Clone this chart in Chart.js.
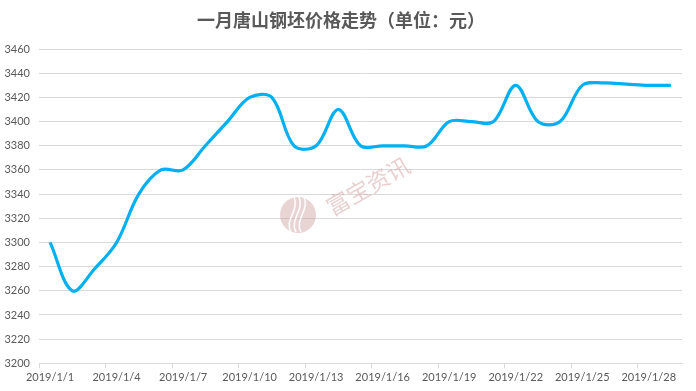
<!DOCTYPE html>
<html>
<head>
<meta charset="utf-8">
<script src="https://cdn.jsdelivr.net/npm/chart.js@4"></script>
<style>
  html, body { margin: 0; padding: 0; background: #fff; }
  #wrap { width: 696px; height: 391px; }
</style>
</head>
<body>
<div id="wrap"><canvas id="priceChart" width="696" height="391"></canvas></div>
<script>
const dates = [
  "2019/1/1", "2019/1/2", "2019/1/3", "2019/1/4", "2019/1/5", "2019/1/6", "2019/1/7",
  "2019/1/8", "2019/1/9", "2019/1/10", "2019/1/11", "2019/1/12", "2019/1/13", "2019/1/14",
  "2019/1/15", "2019/1/16", "2019/1/17", "2019/1/18", "2019/1/19", "2019/1/20", "2019/1/21",
  "2019/1/22", "2019/1/23", "2019/1/24", "2019/1/25", "2019/1/26", "2019/1/27", "2019/1/28",
  "2019/1/29"
];
const prices = [
  3300, 3260, 3278, 3300, 3340, 3360, 3360,
  3380, 3400, 3420, 3420, 3380, 3380, 3410,
  3380, 3380, 3380, 3380, 3400, 3400, 3400,
  3430, 3400, 3400, 3430, 3432, 3431, 3430,
  3430
];
const yMin = 3200, yMax = 3460, yStep = 20;
const titleText = "一月唐山钢坯价格走势（单位：元）";
const watermarkText = "富宝资讯";

const GRID = "#d9d9d9";
const LABEL = "#595959";

// faint watermark behind the line
const watermark = {
  id: "watermark",
  beforeDatasetsDraw(chart) {
    const ctx = chart.ctx;
    ctx.save();
    ctx.fillStyle = "rgba(206,160,160,0.45)";
    ctx.beginPath();
    ctx.arc(298, 215, 18, 0, Math.PI * 2);
    ctx.fill();
    ctx.strokeStyle = "rgba(255,255,255,0.9)";
    ctx.lineWidth = 1.6;
    for (let i = 0; i < 3; i++) {
      ctx.beginPath();
      ctx.moveTo(291 + i * 5, 232);
      ctx.bezierCurveTo(284 + i * 5, 220, 300 + i * 5, 210, 294 + i * 5, 197);
      ctx.stroke();
    }
    ctx.translate(368, 186);
    ctx.rotate(-0.52);
    ctx.fillStyle = "rgba(214,170,170,0.55)";
    ctx.font = "23px 'Noto Sans CJK SC'";
    ctx.textAlign = "center";
    ctx.textBaseline = "middle";
    ctx.fillText(watermarkText, 0, 0);
    ctx.restore();
  }
};

new Chart(document.getElementById("priceChart").getContext("2d"), {
  type: "line",
  data: {
    labels: dates,
    datasets: [{
      data: prices,
      borderColor: "#00b0f0",
      borderWidth: 3.2,
      pointRadius: 0,
      tension: 0.35,
      fill: false
    }]
  },
  options: {
    responsive: false,
    animation: false,
    layout: { padding: { left: 0, right: 14, top: 0, bottom: 0 } },
    plugins: {
      legend: { display: false },
      tooltip: { enabled: false },
      title: {
        display: true,
        text: titleText,
        color: LABEL,
        font: { family: "'Noto Sans CJK SC'", size: 18, weight: "bold", lineHeight: 1.2 },
        padding: { top: 9, bottom: 18.5 }
      }
    },
    scales: {
      x: {
        offset: true,
        grid: {
          offset: true,
          drawOnChartArea: false,
          drawTicks: true,
          tickLength: 5,
          color: ctx => (ctx.index % 3 === 0 ? GRID : "rgba(0,0,0,0)")
        },
        border: { color: GRID, width: 1 },
        ticks: {
          autoSkip: false,
          maxRotation: 0,
          padding: 3,
          color: LABEL,
          font: { family: "Lato", size: 11 },
          callback: (v, i) => (i % 3 === 0 ? dates[i] : "")
        },
        afterFit: s => { s.height = 27.7; }
      },
      y: {
        min: yMin,
        max: yMax,
        ticks: {
          stepSize: yStep,
          padding: 9,
          color: LABEL,
          font: { family: "Lato", size: 11 },
          callback: v => String(v)
        },
        grid: { color: GRID, drawTicks: false },
        border: { display: false },
        afterFit: s => { s.width = 39; }
      }
    }
  },
  plugins: [watermark]
});
</script>
</body>
</html>
